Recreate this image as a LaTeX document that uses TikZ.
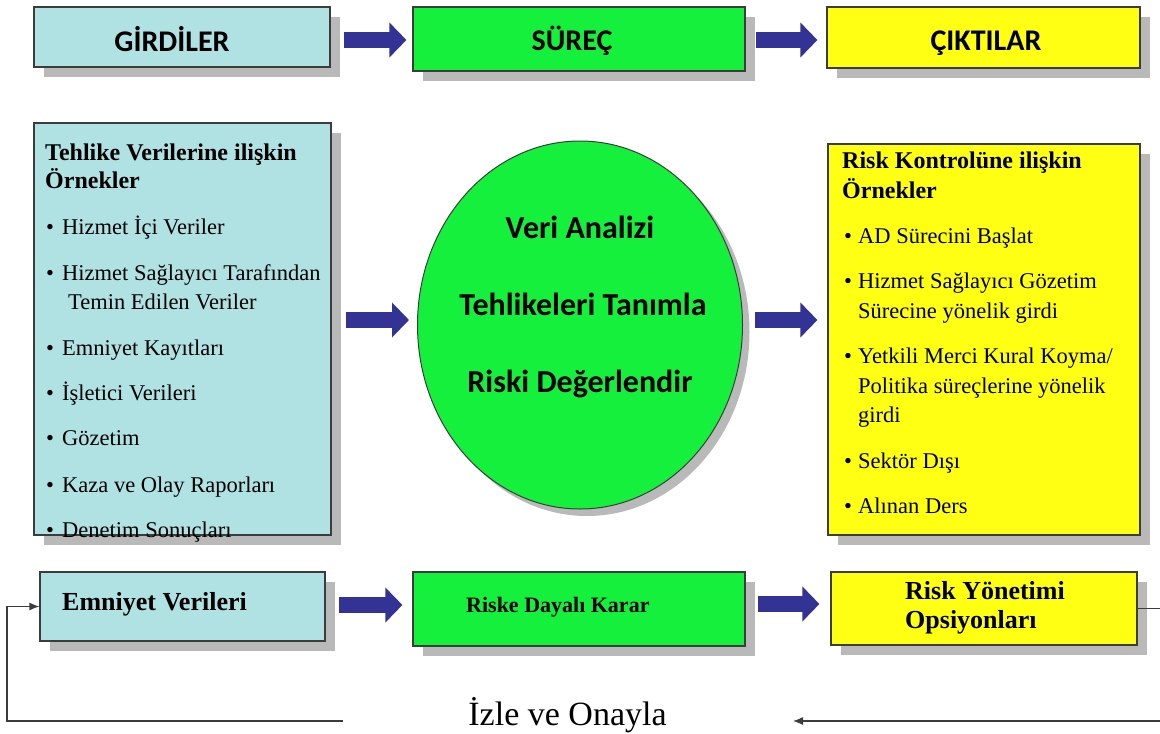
\documentclass[tikz,border=0pt]{standalone}
\usepackage{fontspec}
\setmainfont{Liberation Serif}
\newfontfamily\calfont{Carlito}
\usetikzlibrary{calc,shapes.geometric,shadows,arrows.meta}
\definecolor{cyanbox}{RGB}{176,226,228}
\definecolor{greenbox}{RGB}{20,240,60}
\definecolor{yellowbox}{RGB}{255,255,20}
\definecolor{shgray}{RGB}{185,185,185}
\definecolor{arrowblue}{RGB}{51,51,150}
\definecolor{edgegray}{RGB}{60,60,60}
\begin{document}
\begin{tikzpicture}[x=1pt,y=-1pt,
  box/.style={draw=edgegray, line width=1.2pt, rectangle, inner sep=0pt,
    general shadow={fill=shgray, shadow xshift=10pt, shadow yshift=-10pt}},
  cbox/.style={box, fill=cyanbox},
  gbox/.style={box, fill=greenbox},
  ybox/.style={box, fill=yellowbox},
  toplabel/.style={anchor=base, inner sep=0pt, font=\calfont\bfseries\fontsize{30}{36}\selectfont},
  elltext/.style={anchor=base, inner sep=0pt, font=\calfont\bfseries\fontsize{32}{38}\selectfont},
  barrow/.style={line width=16pt, arrowblue, -{Triangle[length=17pt,width=34pt]}},
  fb/.style={line width=1.2pt, edgegray},
  ttl/.style={anchor=base west, inner sep=0pt, font=\bfseries\fontsize{24}{29}\selectfont},
  itm/.style={anchor=base west, inner sep=0pt, font=\fontsize{22.5}{29}\selectfont},
  btxt/.style={inner sep=0pt, font=\bfseries\fontsize{26}{29}\selectfont},
]
\useasboundingbox (0,0) rectangle (1160,734);
\fill[white] (0,0) rectangle (1160,734);
\clip (0,0) rectangle (1160,734);

% top row
\node[cbox, minimum width=296pt, minimum height=60pt] (gird) at (182,37) {};
\node[gbox, minimum width=332pt, minimum height=64pt] (surec) at (579,39) {};
\node[ybox, minimum width=313pt, minimum height=61pt] (cikti) at (983.5,37.5) {};
\node[toplabel] (tg) at (172,51) {GİRDİLER};
\node[toplabel] (ts) at (572,50) {SÜREÇ};
\node[toplabel] (tc) at (986,50) {ÇIKTILAR};
\draw[barrow] ($(gird.east)+(13,3)$) -- ($(surec.west)+(-6,1)$);
\draw[barrow] ($(surec.east)+(10,1)$) -- ($(cikti.west)+(-9,2.5)$);

% middle row
\node[cbox, minimum width=297pt, minimum height=412pt] (lbox) at (182.5,329) {};
\node[ellipse, draw=edgegray, line width=1pt, fill=greenbox, inner sep=0pt,
  minimum width=325pt, minimum height=368pt,
  general shadow={fill=shgray, shadow xshift=7pt, shadow yshift=-7pt}] (ell) at (580,325) {};
\node[ybox, minimum width=312pt, minimum height=391pt] (rbox) at (984,339.5) {};

\node[ttl] (l1) at (45,160) {Tehlike Verilerine ilişkin};
\node[ttl] (l2) at (45,188) {Örnekler};
\node[itm] (l3) at (46,234) {\makebox[16pt][l]{\textbullet}Hizmet İçi Veriler};
\node[itm] (l4) at (46,280) {\makebox[16pt][l]{\textbullet}Hizmet Sağlayıcı Tarafından};
\node[itm] (l5) at (68,309) {Temin Edilen Veriler};
\node[itm] (l6) at (46,355) {\makebox[16pt][l]{\textbullet}Emniyet Kayıtları};
\node[itm] (l7) at (46,400) {\makebox[16pt][l]{\textbullet}İşletici Verileri};
\node[itm] (l8) at (46,445) {\makebox[16pt][l]{\textbullet}Gözetim};
\node[itm] (l9) at (46,492) {\makebox[16pt][l]{\textbullet}Kaza ve Olay Raporları};
\node[itm] (l10) at (46,537) {\makebox[16pt][l]{\textbullet}Denetim Sonuçları};

\node[elltext] (e1) at (580,238) {Veri Analizi};
\node[elltext] (e2) at (583,315) {Tehlikeleri Tanımla};
\node[elltext] (e3) at (580,392) {Riski Değerlendir};

\node[ttl] (r1) at (842,168) {Risk Kontrolüne ilişkin};
\node[ttl] (r2) at (842,198) {Örnekler};
\node[itm] (r3) at (844,243) {\makebox[14pt][l]{\textbullet}AD Sürecini Başlat};
\node[itm] (r4) at (844,288) {\makebox[14pt][l]{\textbullet}Hizmet Sağlayıcı Gözetim};
\node[itm] (r5) at (858,318) {Sürecine yönelik girdi};
\node[itm] (r6) at (844,363) {\makebox[14pt][l]{\textbullet}Yetkili Merci Kural Koyma/};
\node[itm] (r7) at (858,393) {Politika süreçlerine yönelik};
\node[itm] (r8) at (858,422) {girdi};
\node[itm] (r9) at (844,468) {\makebox[14pt][l]{\textbullet}Sektör Dışı};
\node[itm] (r10) at (844,513) {\makebox[14pt][l]{\textbullet}Alınan Ders};

\draw[barrow] ($(lbox.east)+(14,-9)$) -- ($(ell.west)+(-8,-5)$);
\draw[barrow] ($(ell.east)+(12,-5)$) -- ($(rbox.west)+(-10,-19.5)$);

% bottom row
\node[cbox, minimum width=285pt, minimum height=69pt] (emv) at (182.5,606.5) {};
\node[gbox, minimum width=332pt, minimum height=74pt] (rdk) at (579,609) {};
\node[ybox, minimum width=306pt, minimum height=73pt] (ryo) at (984,608.5) {};
\node[btxt, anchor=base west] (te) at (62,610) {Emniyet Verileri};
\node[btxt, anchor=base west, font=\bfseries\fontsize{22}{29}\selectfont] (tr) at (466,612) {Riske Dayalı Karar};
\node[btxt, anchor=base west] (ty1) at (905,599) {Risk Yönetimi};
\node[btxt, anchor=base west] (ty2) at (905,628) {Opsiyonları};
\draw[barrow] ($(emv.east)+(13,-1.5)$) -- ($(rdk.west)+(-10,-4)$);
\draw[barrow] ($(rdk.east)+(12,-5)$) -- ($(ryo.west)+(-11,-4.5)$);

% feedback loop
\node[inner sep=0pt, anchor=base, font=\fontsize{34}{40}\selectfont] (mon) at (567.5,725) {İzle ve Onayla};
\coordinate (fr) at (1175,608.5);
\coordinate (fend) at (793,721);
\coordinate (fstart) at (343,721);
\coordinate (fl) at (7,721);
\draw[fb, -{Latex[length=10pt,width=8pt]}] (ryo.east) -- (fr) |- (fend);
\draw[fb, -{Latex[length=10pt,width=8pt]}] (fstart) -- (fl) |- (emv.west);
\end{tikzpicture}
\end{document}
